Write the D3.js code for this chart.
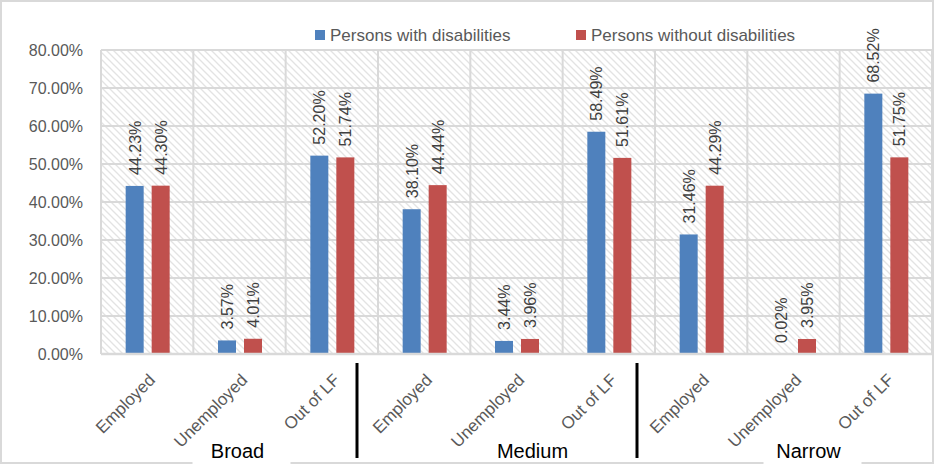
<!DOCTYPE html>
<html><head><meta charset="utf-8">
<script src="https://cdn.jsdelivr.net/npm/d3@7"></script>
<style>body{margin:0;background:#fff}svg{display:block}text{font-family:"Liberation Sans",Arial,sans-serif}</style>
</head><body>
<script>
const categories = ["Employed","Unemployed","Out of LF","Employed","Unemployed","Out of LF","Employed","Unemployed","Out of LF"];
const groups = ["Broad","Medium","Narrow"];
const withDis = [44.23,3.57,52.20,38.10,3.44,58.49,31.46,0.02,68.52];
const withoutDis = [44.30,4.01,51.74,44.44,3.96,51.61,44.29,3.95,51.75];
const seriesNames = ["Persons with disabilities","Persons without disabilities"];
const colors = ["#4F81BD","#C0504D"];
const yTicks = [0,10,20,30,40,50,60,70,80];

const W=935,H=466;
const m={l:101,r:3,t:50,b:112};
const svg=d3.select("body").append("svg").attr("width",W).attr("height",H);
const defs=svg.append("defs");
const P=7;
const pat=defs.append("pattern").attr("id","hatch").attr("patternUnits","userSpaceOnUse").attr("width",P).attr("height",P);
pat.append("rect").attr("width",P).attr("height",P).attr("fill","#fff");
pat.append("path").attr("d",`M0,0L${P},${P}M-2,${P-2}L2,${P+2}M${P-2},-2L${P+2},2`).attr("stroke","#e3e3e3").attr("stroke-width",1.3);

svg.append("rect").attr("x",1).attr("y",1).attr("width",W-3).attr("height",H-4).attr("fill","#fff").attr("stroke","#d9d9d9").attr("stroke-width",2);

const x=d3.scaleBand().domain(d3.range(categories.length)).range([m.l,W-m.r]).paddingInner(0).paddingOuter(0);
const y=d3.scaleLinear().domain([0,80]).range([H-m.b,m.t]);
const bw=x.bandwidth();

svg.append("rect").attr("x",m.l).attr("y",m.t).attr("width",W-m.r-m.l).attr("height",y(0)-m.t).attr("fill","url(#hatch)");

// horizontal grid
svg.append("g").selectAll("line").data(yTicks).join("line")
 .attr("x1",m.l).attr("x2",W-m.r).attr("y1",d=>y(d)).attr("y2",d=>y(d))
 .attr("stroke","#d9d9d9").attr("stroke-width",2);
// vertical grid
svg.append("g").selectAll("line").data(d3.range(categories.length+1)).join("line")
 .attr("x1",d=>m.l+d*bw).attr("x2",d=>m.l+d*bw).attr("y1",m.t).attr("y2",y(0))
 .attr("stroke","#d9d9d9").attr("stroke-width",2);

// y axis labels
const yAxis=d3.axisLeft(y).tickValues(yTicks).tickFormat(d=>d.toFixed(2)+"%").tickSize(0).tickPadding(18);
const ga=svg.append("g").attr("transform",`translate(${m.l},0)`).call(yAxis);
ga.select(".domain").remove();
ga.selectAll("text").attr("font-size",16).attr("fill","#595959").attr("font-family","'Liberation Sans',Arial,sans-serif");

const barW=18, off=[-12.5,13.5];
const series=[withDis,withoutDis];
series.forEach((vals,si)=>{
  const g=svg.append("g");
  g.selectAll("rect").data(vals).join("rect")
   .attr("x",(d,i)=>x(i)+bw/2+off[si]-barW/2).attr("width",barW)
   .attr("y",d=>y(d)).attr("height",d=>y(0)-y(d)).attr("fill",colors[si]);
  g.selectAll("text").data(vals).join("text")
   .attr("transform",(d,i)=>`translate(${x(i)+bw/2+off[si]+6},${y(d)-11}) rotate(-90)`)
   .attr("font-size",16).attr("fill","#404040")
   .text(d=>d.toFixed(2)+"%");
});

// baseline
svg.append("line").attr("x1",m.l).attr("x2",W-m.r).attr("y1",y(0)).attr("y2",y(0)).attr("stroke","#d9d9d9").attr("stroke-width",2.5);

// category labels
svg.append("g").selectAll("text").data(categories).join("text")
 .attr("transform",(d,i)=>`translate(${x(i)+bw/2+9},${y(0)+27}) rotate(-45)`)
 .attr("text-anchor","end").attr("font-size",17).attr("fill","#595959").text(d=>d);

// group separators
const sepOff=[-21,-18];
[3,6].forEach((b,k)=>{
  svg.append("line").attr("x1",x(b)+sepOff[k]).attr("x2",x(b)+sepOff[k]).attr("y1",363).attr("y2",458)
   .attr("stroke","#000").attr("stroke-width",3);
});

// group labels
const gOff=[-2,16,15];
const boxes=[true,false,true];
groups.forEach((gname,k)=>{
  const cx=x(k*3+1)+bw/2+gOff[k];
  if(boxes[k]) svg.append("rect").attr("x",cx-45).attr("y",444).attr("width",98).attr("height",22).attr("fill","#fff");
  svg.append("text").attr("x",cx).attr("y",458).attr("text-anchor","middle").attr("font-size",20).attr("fill","#000").text(gname);
});

// legend
const legX=[315,576];
seriesNames.forEach((n,i)=>{
  svg.append("rect").attr("x",legX[i]).attr("y",30).attr("width",10).attr("height",10).attr("fill",colors[i]);
  svg.append("text").attr("x",legX[i]+15).attr("y",41).attr("font-size",17).attr("fill","#595959").text(n);
});
</script>
</body></html>
